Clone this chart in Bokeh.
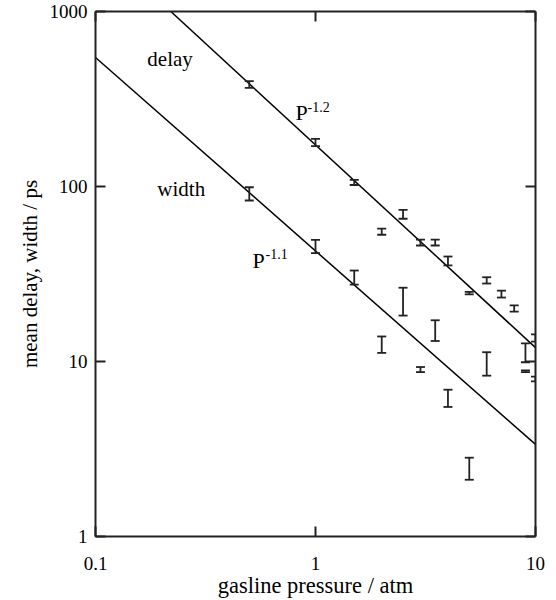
from bokeh.plotting import figure
from bokeh.models import (Range1d, LogAxis, FixedTicker, Label, ColumnDataSource,
                          CustomJSTickFormatter)
from bokeh.embed import file_html
from bokeh.resources import INLINE

# ---- data ----
delay_p = [0.5, 1, 1.5, 2, 2.5, 3, 3.5, 4, 5, 6, 7, 8, 9, 10]
delay_v = [383, 178, 106, 55.6, 69.8, 48.1, 48.1, 37.8, 24.6, 29.0, 24.1, 20.0, 11.2, 13.6]
delay_lo = [366, 170, 102, 53.0, 65.4, 46.0, 46.0, 35.4, 24.2, 27.9, 23.2, 19.3, 9.9, 13.0]
delay_hi = [400, 187, 109, 57.4, 73.6, 49.7, 49.7, 39.8, 25.0, 30.3, 25.4, 20.9, 12.7, 14.3]

width_p = [0.5, 1, 1.5, 2, 2.5, 3, 3.5, 4, 5, 6, 9, 10]
width_v = [91, 45.5, 30.0, 12.5, 22.0, 9.0, 15.0, 6.2, 2.45, 9.7, 8.8, 7.9]
width_lo = [83.2, 41.6, 27.5, 11.2, 18.3, 8.7, 13.1, 5.5, 2.11, 8.3, 8.7, 7.7]
width_hi = [99, 49.6, 33.1, 13.9, 26.4, 9.3, 17.2, 6.9, 2.82, 11.3, 8.9, 8.2]

# fitted power-law lines (end points)
delay_fit_p = [0.22, 10]
delay_fit_v = [1000, 12]
width_fit_p = [0.1, 10]
width_fit_v = [546, 3.36]

x_ticks = [0.1, 1, 10]
x_tick_labels = ["0.1", "1", "10"]
y_ticks = [1, 10, 100, 1000]
y_tick_labels = ["1", "10", "100", "1000"]

FONT = "Liberation Serif"
INK = "#222222"

p = figure(width=556, height=600, x_axis_type="log", y_axis_type="log",
           x_range=Range1d(0.1, 10), y_range=Range1d(1, 1000),
           output_backend="svg", toolbar_location=None,
           min_border_left=95, min_border_right=21, min_border_top=11,
           min_border_bottom=64)
p.grid.visible = False
p.outline_line_color = None
p.background_fill_color = "white"
p.border_fill_color = "white"

def style_axis(ax, ticks, labels, show_labels=True):
    ax.ticker = FixedTicker(ticks=ticks, minor_ticks=[])
    ax.major_tick_in = 10
    ax.major_tick_out = 0
    ax.minor_tick_in = 0
    ax.minor_tick_out = 0
    ax.major_tick_line_width = 2
    ax.major_tick_line_color = INK
    ax.axis_line_width = 2
    ax.axis_line_color = INK
    ax.major_label_text_font = FONT
    ax.major_label_text_color = "black"
    if show_labels:
        ax.major_label_overrides = {t: l for t, l in zip(ticks, labels)}
        ax.major_label_text_font_size = "19px"
    else:
        ax.formatter = CustomJSTickFormatter(code="return ''")
        ax.major_label_standoff = 0

style_axis(p.xaxis[0], x_ticks, x_tick_labels)
style_axis(p.yaxis[0], y_ticks, y_tick_labels)
p.xaxis.major_label_standoff = 20
p.yaxis.major_label_standoff = 8
p.xaxis.axis_label = "gasline pressure / atm"
p.yaxis.axis_label = "mean delay, width / ps"
for ax in (p.xaxis[0], p.yaxis[0]):
    ax.axis_label_text_font = FONT
    ax.axis_label_text_font_style = "normal"
    ax.axis_label_text_color = "black"
p.xaxis.axis_label_text_font_size = "22.5px"
p.yaxis.axis_label_text_font_size = "21px"
p.xaxis.axis_label_standoff = 0
p.yaxis.axis_label_standoff = 5

top = LogAxis()
style_axis(top, x_ticks, x_tick_labels, show_labels=False)
p.add_layout(top, "above")
right = LogAxis()
style_axis(right, y_ticks, y_tick_labels, show_labels=False)
p.add_layout(right, "right")

# fit lines
p.line(delay_fit_p, delay_fit_v, line_color="black", line_width=1.5)
p.line(width_fit_p, width_fit_v, line_color="black", line_width=1.5)

# error bars
for xs, lo, hi in ((delay_p, delay_lo, delay_hi), (width_p, width_lo, width_hi)):
    src = ColumnDataSource(dict(x=xs, lo=lo, hi=hi))
    p.segment(x0="x", y0="lo", x1="x", y1="hi", source=src,
              line_color=INK, line_width=1.8)
    p.scatter(x="x", y="lo", source=src, marker="dash", size=9,
              line_color=INK, line_width=1.8)
    p.scatter(x="x", y="hi", source=src, marker="dash", size=9,
              line_color=INK, line_width=1.8)

# text labels
def add_text(x, y, t, size):
    p.add_layout(Label(x=x, y=y, text=t, text_font=FONT, text_font_size=size,
                       text_color="black", text_align="left",
                       text_baseline="alphabetic"))

add_text(0.172, 532, "delay", "21px")
add_text(0.191, 97.4, "width", "21px")
add_text(0.811, 265, "P", "22px")
add_text(0.920, 283, "-1.2", "14px")
add_text(0.517, 37.8, "P", "22px")
add_text(0.593, 40.9, "-1.1", "14px")

open("out.html", "w").write(file_html(p, INLINE))
